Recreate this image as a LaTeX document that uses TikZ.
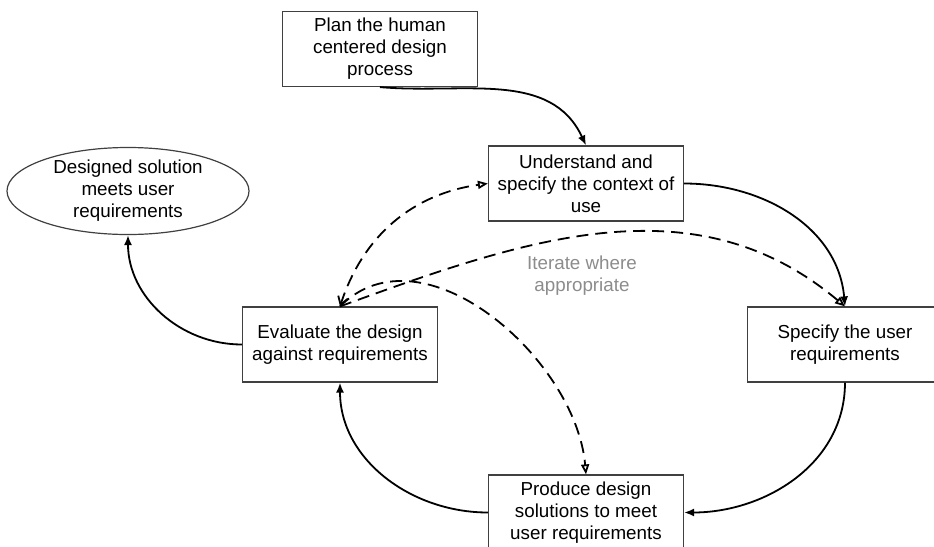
\documentclass[tikz,border=0pt]{standalone}
\usepackage{fontspec}
\setmainfont{Liberation Sans}
\usetikzlibrary{arrows.meta,shapes.geometric}

\begin{document}
\begin{tikzpicture}[x=0.5pt,y=-0.5pt,
    stepbox/.style={draw=black!75,line width=0.6pt,minimum width=97.5pt,minimum height=37.5pt,align=center,font=\fontsize{9.4}{11}\selectfont},
    flow/.style={line width=0.9pt,-{Latex[length=5pt,width=4pt]}},
    iter/.style={line width=0.9pt,dash pattern=on 6pt off 3.5pt,-{Triangle[open,length=5pt,width=4pt]}}]
        \useasboundingbox (0,0) rectangle (934,547);
        % Boxes
        \node[stepbox] (plan) at (380,49) {Plan the human\\centered design\\process};
        \node[stepbox] (context) at (586,183.5) {Understand and\\specify the context of\\use};
        \node[stepbox] (userreq) at (845,344.5) {Specify the user\\requirements};
        \node[stepbox] (produce) at (586,512.5) {Produce design\\solutions to meet\\user requirements};
        \node[stepbox] (evaluate) at (340,344.5) {Evaluate the design\\against requirements};
        \node[draw=black!75,line width=0.6pt,ellipse,minimum width=121pt,minimum height=43pt,inner sep=0pt,align=center,font=\fontsize{9.4}{11}\selectfont] (done) at (128,191) {Designed solution\\meets user\\requirements};
        \node[text=black!45,align=center,font=\fontsize{9.4}{11}\selectfont] (iterate) at (582,276) {Iterate where\\appropriate};

        % Main cycle
        \draw[flow] (plan.south) to[out=-5,in=115] (context.north);
        \draw[flow] (context.east) to[out=0,in=95] (userreq.north);
        \draw[flow] (userreq.south) to[out=-90,in=0] (produce.east);
        \draw[flow] (produce.west) to[out=180,in=-90] (evaluate.south);
        \draw[flow] (evaluate.west) to[out=180,in=-90] (done.south);

        % Iterations
        \draw[iter,{Straight Barb[length=4pt,width=5pt]}-{Triangle[open,length=5pt,width=4pt]}] (evaluate.north) to[out=72,in=188] (context.west);
        \draw[iter] (evaluate.north) to[out=20,in=140] (userreq.north);
        \draw[iter] (evaluate.north) to[out=45,in=95] (produce.north);
      \end{tikzpicture}
\end{document}
